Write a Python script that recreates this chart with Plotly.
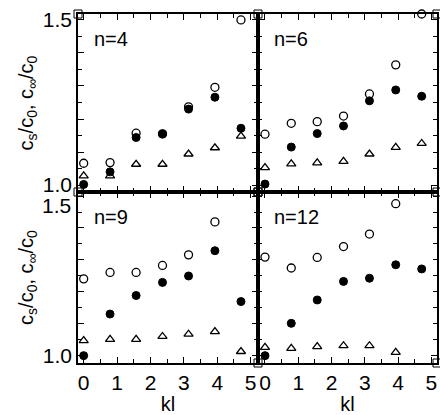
import plotly.graph_objects as go
from plotly.subplots import make_subplots

# ---- data ----
kl = [0, 0.79, 1.57, 2.36, 3.14, 3.93, 4.71]

n4_open = [1.066, 1.068, 1.157, 1.155, 1.237, 1.296, 1.500]
n4_fill = [1.002, 1.040, 1.144, 1.155, 1.230, 1.266, 1.172]
n4_tri = [1.028, 1.028, 1.063, 1.063, 1.094, 1.113, 1.148]

n6_open = [1.154, 1.187, 1.192, 1.209, 1.276, 1.364, 1.518]
n6_fill = [1.003, 1.115, 1.156, 1.179, 1.255, 1.288, 1.269]
n6_tri = [1.053, 1.064, 1.067, 1.072, 1.094, 1.114, 1.126]

n9_open = [1.241, 1.261, 1.261, 1.283, 1.316, 1.419, None]
n9_fill = [1.001, 1.131, 1.189, 1.230, 1.250, 1.329, 1.170]
n9_tri = [1.048, 1.052, 1.052, 1.061, 1.068, 1.076, 1.014]

n12_open = [1.309, 1.275, 1.308, 1.342, 1.381, 1.476, None]
n12_fill = [1.001, 1.102, 1.175, 1.233, 1.243, 1.285, 1.272]
n12_tri = [1.027, 1.024, 1.029, 1.032, 1.032, 1.011, None]

panel_labels = ["n=4", "n=6", "n=9", "n=12"]
x_ticks = [0, 1, 2, 3, 4, 5]
x_ticklabels = ["0", "1", "2", "3", "4", "5"]
y_ticks = [1.0, 1.1, 1.2, 1.3, 1.4, 1.5]
y_ticklabels_top = ["1.0", "", "", "", "", "1.5"]
y_ticklabels_bottom = ["1.0", "", "", "", "", ""]   # bottom "1.5" drawn as annotation (sits lower)
y_top_label_bottom_panel = "1.5"

panels = [
    (1, 1, n4_open, n4_fill, n4_tri),
    (1, 2, n6_open, n6_fill, n6_tri),
    (2, 1, n9_open, n9_fill, n9_tri),
    (2, 2, n12_open, n12_fill, n12_tri),
]

# axis ranges (layout)
x_range_left = [-0.17, 5.22]
x_range_right = [-0.21, 5.17]
y_range_top = [0.979, 1.518]
y_range_bottom = [0.978, 1.5125]

FONT = "Liberation Sans, Arial, Helvetica, sans-serif"

fig = make_subplots(rows=2, cols=2, horizontal_spacing=0, vertical_spacing=0,
                    column_widths=[180, 179], row_heights=[178, 171])

msize = 8
for (r, c, op, fi, tr) in panels:
    fig.add_trace(go.Scatter(x=kl, y=tr, mode="markers", cliponaxis=False,
                             marker=dict(symbol="triangle-up-open", size=8, color="black",
                                         line=dict(width=1.3, color="black"))),
                  row=r, col=c)
    fig.add_trace(go.Scatter(x=kl, y=op, mode="markers", cliponaxis=False,
                             marker=dict(symbol="circle", size=msize, color="white",
                                         line=dict(width=1.3, color="black"))),
                  row=r, col=c)
    fig.add_trace(go.Scatter(x=kl, y=fi, mode="markers", cliponaxis=False,
                             marker=dict(symbol="circle", size=msize, color="black",
                                         line=dict(width=1, color="black"))),
                  row=r, col=c)
    # small open squares marking frame corners
    xr = x_range_left if c == 1 else x_range_right
    yr = y_range_top if r == 1 else y_range_bottom
    cx = [xr[0], xr[1]]
    cy = [yr[1], yr[0]]
    if (r, c) == (1, 2):
        cx.append(xr[1])
        cy.append(yr[1])
    fig.add_trace(go.Scatter(x=cx, y=cy, mode="markers", cliponaxis=False,
                             marker=dict(symbol="square-open", size=8, color="black",
                                         line=dict(width=1, color="black"))),
                  row=r, col=c)

TICKFONT = dict(family=FONT, size=21, color="black")
axis_common = dict(showline=True, linecolor="black", linewidth=1.5, mirror="ticks",
                   ticks="inside", ticklen=6, tickwidth=1.2, tickcolor="black",
                   showgrid=False, zeroline=False, automargin=False,
                   tickfont=TICKFONT)

for r in (1, 2):
    for c in (1, 2):
        xr = x_range_left if c == 1 else x_range_right
        yr = y_range_top if r == 1 else y_range_bottom
        ytext = y_ticklabels_top if r == 1 else y_ticklabels_bottom
        fig.update_xaxes(range=xr, tickmode="array", tickvals=x_ticks, ticktext=x_ticklabels,
                         showticklabels=(r == 2),
                         minor=dict(ticks="inside", dtick=0.5, tick0=0, ticklen=4,
                                    tickwidth=1, tickcolor="black", showgrid=False),
                         row=r, col=c, **axis_common)
        fig.update_yaxes(range=yr, tickmode="array", tickvals=y_ticks, ticktext=ytext,
                         showticklabels=(c == 1),
                         minor=dict(ticks="inside", dtick=0.05, tick0=1.0, ticklen=4,
                                    tickwidth=1, tickcolor="black", showgrid=False),
                         row=r, col=c, **axis_common)

# bottom-left panel's "1.5" label, nudged down below the upper panel's "1.0"
fig.add_annotation(text=y_top_label_bottom_panel, xref="paper", yref="y3",
                   x=0, y=y_ticks[-1], xanchor="right", yanchor="middle",
                   xshift=-5, yshift=-9, showarrow=False, font=TICKFONT)

ytitle = "c<sub>s</sub>/c<sub>0</sub>, c<sub>∞</sub>/c<sub>0</sub>"
fig.update_yaxes(title=dict(text=ytitle, font=dict(family=FONT, size=20, color="black"),
                            standoff=4), row=1, col=1)
fig.update_yaxes(title=dict(text=ytitle, font=dict(family=FONT, size=20, color="black"),
                            standoff=4), row=2, col=1)
for c in (1, 2):
    fig.update_xaxes(title=dict(text="kl", font=dict(family=FONT, size=20, color="black"),
                                standoff=6), row=2, col=c)

# panel labels
label_axes = [("x", "y"), ("x2", "y2"), ("x3", "y3"), ("x4", "y4")]
for (xa, ya), txt in zip(label_axes, panel_labels):
    fig.add_annotation(text=txt, xref=xa + " domain", yref=ya + " domain",
                       x=0.08, y=0.93, xanchor="left", yanchor="top", showarrow=False,
                       font=dict(family=FONT, size=20, color="black"))

fig.update_layout(width=440, height=415, showlegend=False,
                  margin=dict(l=78, r=3, t=14, b=52),
                  paper_bgcolor="white", plot_bgcolor="white")

fig.write_html("out.html", config={"displayModeBar": False},
               post_script="document.body.style.margin='0';document.body.style.padding='0';"
                           "document.documentElement.style.overflow='hidden';")
